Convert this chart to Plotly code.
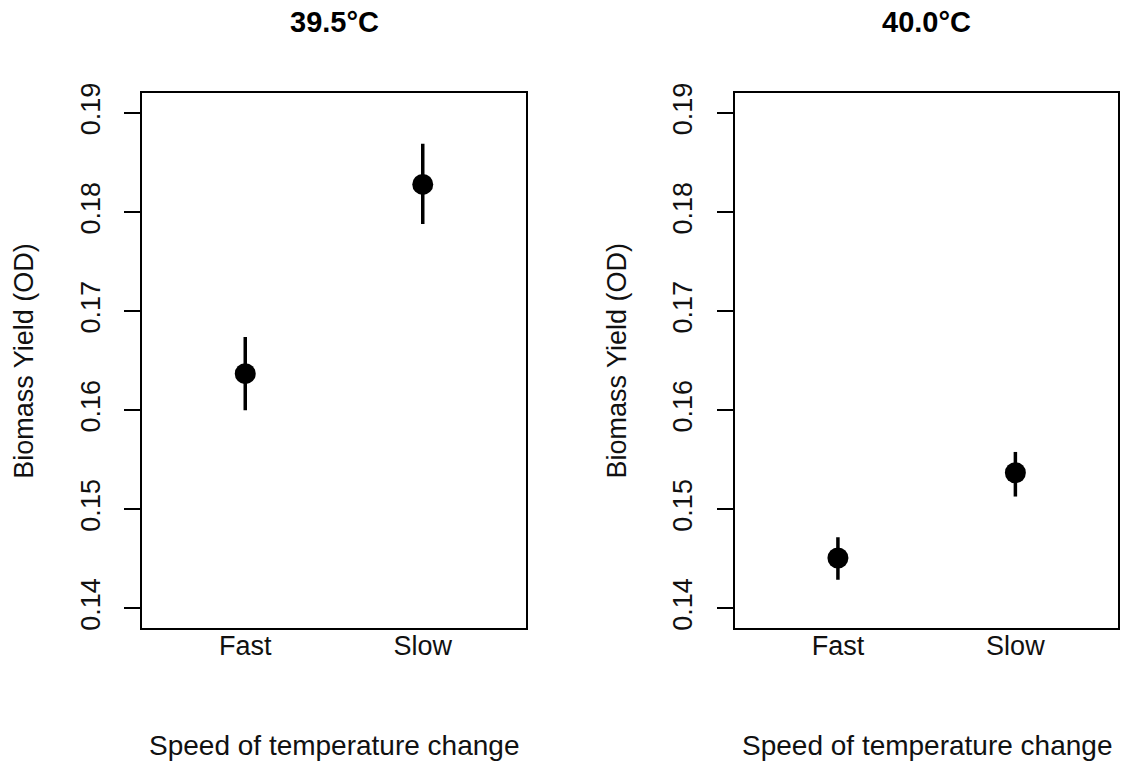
import plotly.graph_objects as go

categories = ["Fast", "Slow"]
panel_titles = ["39.5°C", "40.0°C"]
# mean, upper, lower for each panel
mean_395 = [0.1637, 0.1828]
upper_395 = [0.1674, 0.1869]
lower_395 = [0.1600, 0.1788]
mean_400 = [0.1451, 0.1537]
upper_400 = [0.1472, 0.1558]
lower_400 = [0.1429, 0.1513]
ytick_vals = [0.14, 0.15, 0.16, 0.17, 0.18, 0.19]
ytick_text = ["0.14", "0.15", "0.16", "0.17", "0.18", "0.19"]
y_label = "Biomass Yield (OD)"
x_label = "Speed of temperature change"

W, H = 1121, 764
FONT = "Liberation Sans, Arial, sans-serif"

fig = go.Figure()
xpos = [1, 2]
panels = [(mean_395, upper_395, lower_395), (mean_400, upper_400, lower_400)]
for i, (m, u, l) in enumerate(panels):
    ax = "" if i == 0 else "2"
    fig.add_trace(go.Scatter(
        x=xpos, y=m, mode="markers",
        marker=dict(color="black", size=21, symbol="circle"),
        error_y=dict(type="data", symmetric=False,
                     array=[a - b for a, b in zip(u, m)],
                     arrayminus=[b - c for b, c in zip(m, l)],
                     color="black", thickness=3.5, width=0),
        xaxis="x" + ax, yaxis="y" + ax, showlegend=False,
        hoverinfo="skip"))

doms = [(142.3 / W, 525.7 / W), (735 / W, 1118.3 / W)]
ydom = (1 - 628.3 / H, 1 - 93.3 / H)

axis_common = dict(showgrid=False, zeroline=False, showline=True, mirror=True,
                   linecolor="black", linewidth=2)
layout = dict(width=W, height=H, margin=dict(l=0, r=0, t=0, b=0),
              plot_bgcolor="white", paper_bgcolor="white",
              font=dict(family=FONT, color="black", size=27),
              showlegend=False)
for i in range(2):
    sfx = "" if i == 0 else "2"
    layout["xaxis" + sfx] = dict(axis_common, domain=list(doms[i]), range=[0.42, 2.58],
                                 tickvals=xpos, ticktext=categories, ticks="",
                                 ticklabelstandoff=-8,
                                 tickfont=dict(size=27, family=FONT, color="#111"),
                                 anchor="y" + sfx, automargin=False, fixedrange=True)
    layout["yaxis" + sfx] = dict(axis_common, domain=list(ydom), range=[0.138, 0.192],
                                 tickvals=ytick_vals, ticktext=ytick_text,
                                 ticks="outside", ticklen=16, tickwidth=2, tickcolor="black",
                                 tickangle=-90, ticklabelstandoff=14,
                                 tickfont=dict(size=27, family=FONT, color="#111"),
                                 anchor="x" + sfx, automargin=False, fixedrange=True)

annotations = []
for i in range(2):
    cx = (doms[i][0] + doms[i][1]) / 2
    annotations.append(dict(text="<b>" + panel_titles[i] + "</b>", x=cx, y=1 - 22 / H,
                            xref="paper", yref="paper", showarrow=False,
                            font=dict(size=29, family=FONT, color="black"),
                            xanchor="center", yanchor="middle"))
    annotations.append(dict(text=x_label, x=cx, y=1 - 745 / H,
                            xref="paper", yref="paper", showarrow=False,
                            font=dict(size=28, family=FONT, color="#111"),
                            xanchor="center", yanchor="middle"))
    ycx = (24 if i == 0 else 24 + 592.7) / W
    annotations.append(dict(text=y_label, x=ycx, y=(ydom[0] + ydom[1]) / 2,
                            xref="paper", yref="paper", showarrow=False, textangle=-90,
                            font=dict(size=27, family=FONT, color="#111"),
                            xanchor="center", yanchor="middle"))
layout["annotations"] = annotations
fig.update_layout(**layout)
fig.write_html("out.html")
